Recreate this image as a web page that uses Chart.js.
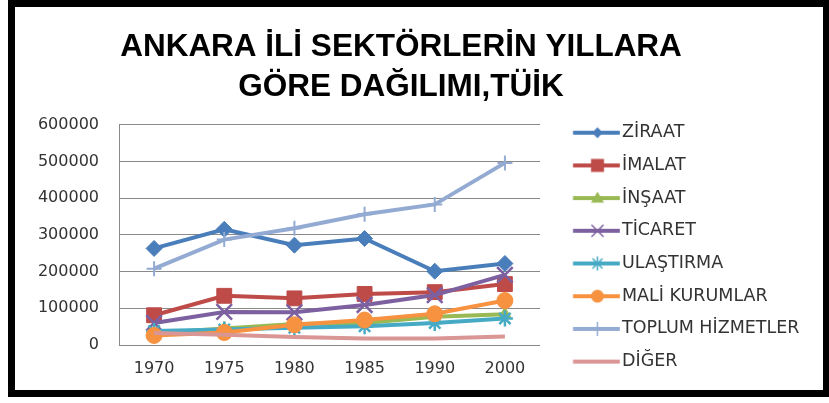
<!DOCTYPE html>
<html>
<head>
<meta charset="utf-8">
<script src="https://cdn.jsdelivr.net/npm/chart.js@4/dist/chart.umd.min.js"></script>
<style>
  html, body { margin: 0; padding: 0; background: #fff; }
  #wrap { position: relative; width: 829px; height: 403px; overflow: hidden; }
  #frame { position: absolute; left: 8px; top: 0; width: 822px; height: 397px; border: 7px solid #000; box-sizing: border-box; }
  #chart { position: absolute; left: 0; top: 0; }
</style>
</head>
<body>
<div id="wrap">
  <div id="frame"></div>
  <canvas id="chart" width="829" height="403"></canvas>
</div>
<script>
// Yillar
const years = ['1970', '1975', '1980', '1985', '1990', '2000'];

// Sektor degerleri (yaklasik)
const ziraat = [263000, 315000, 272000, 290000, 201000, 222000];
const imalat = [81000, 134000, 127000, 139000, 144000, 166000];
const insaat = [32000, 45000, 57000, 60000, 77000, 84000];
const ticaret = [60000, 90000, 89000, 109000, 136000, 191000];
const ulastirma = [38000, 42000, 47000, 51000, 60000, 72000];
const maliKurumlar = [26000, 34000, 55000, 68000, 85000, 121000];
const toplumHizmetler = [208000, 287000, 318000, 356000, 383000, 496000];
const diger = [33000, 28000, 22000, 18000, 18000, 23000];

const sectorNames = ['ZİRAAT', 'İMALAT', 'İNŞAAT', 'TİCARET', 'ULAŞTIRMA', 'MALİ KURUMLAR', 'TOPLUM HİZMETLER', 'DİĞER'];
const yMin = 0, yMax = 600000, yStep = 100000;

const seriesData = [ziraat, imalat, insaat, ticaret, ulastirma, maliKurumlar, toplumHizmetler, diger];

// Seri gorunumleri
const styles = [
    { color: '#4a7ebb', point: 'rectRot', radius: 8, pw: 1, icon: 'diamond' },
    { color: '#be4b48', point: 'rect', radius: 10.5, pw: 1, icon: 'square' },
    { color: '#98b954', point: 'triangle', radius: 7, pw: 1, icon: 'triangle' },
    { color: '#7d60a0', point: 'crossRot', radius: 11, pw: 2.5, icon: 'x' },
    { color: '#46aac5', point: 'star', radius: 8, pw: 2.5, icon: 'star' },
    { color: '#f69240', point: 'circle', radius: 8, pw: 1, icon: 'circle' },
    { color: '#93abd3', point: 'cross', radius: 7.5, pw: 2, icon: 'plus' },
    { color: '#d99694', point: 'circle', radius: 0, pw: 0, icon: 'none' }
];

// Yerlesim
const PLOT_RIGHT = 540;
const LEG_FONT = 17.5, LEG_PAD = 15.2;
const legX = PLOT_RIGHT + LEG_PAD;
const boxW = 622 - legX - LEG_FONT / 2;
const iconOx = legX + boxW / 2 - 36;
const LEG_T = 123.95 - 8 - LEG_PAD;

const mctx = document.createElement('canvas').getContext('2d');
mctx.font = LEG_FONT + 'px DejaVu Sans';
const maxTextW = Math.max(...sectorNames.map(n => mctx.measureText(n).width));
const legWidth = LEG_PAD + boxW + LEG_FONT / 2 + maxTextW + 10;
const padRight = Math.max(0, 829 - PLOT_RIGHT - legWidth);
const padLeft = 2 * 401 - 829 + padRight;

// Lejant simgeleri: cizgi + isaret
function makeIcon(s) {
    const c = document.createElement('canvas');
    c.width = 72; c.height = 20;
    const g = c.getContext('2d');
    const x0 = 573 - iconOx, x1 = 620 - iconOx, mx = 597.5 - iconOx, my = 10;
    g.strokeStyle = s.color; g.fillStyle = s.color;
    g.lineWidth = 4;
    g.beginPath(); g.moveTo(x0, my); g.lineTo(x1, my); g.stroke();
    g.lineWidth = 1.5;
    g.beginPath();
    switch (s.icon) {
        case 'diamond':
            g.moveTo(mx, my - 5.5); g.lineTo(mx + 5.5, my); g.lineTo(mx, my + 5.5); g.lineTo(mx - 5.5, my);
            g.closePath(); g.fill(); break;
        case 'square':
            g.fillRect(mx - 6.5, my - 6.5, 13, 13); break;
        case 'triangle':
            g.moveTo(mx, my - 6.5); g.lineTo(mx + 6.5, my + 4.5); g.lineTo(mx - 6.5, my + 4.5);
            g.closePath(); g.fill(); break;
        case 'x':
            g.moveTo(mx - 6, my - 6); g.lineTo(mx + 6, my + 6);
            g.moveTo(mx + 6, my - 6); g.lineTo(mx - 6, my + 6); g.stroke(); break;
        case 'star':
            g.moveTo(mx - 5, my - 5); g.lineTo(mx + 5, my + 5);
            g.moveTo(mx + 5, my - 5); g.lineTo(mx - 5, my + 5);
            g.moveTo(mx, my - 7); g.lineTo(mx, my + 7); g.stroke(); break;
        case 'circle':
            g.arc(mx, my, 6.5, 0, Math.PI * 2); g.fill(); break;
        case 'plus':
            g.moveTo(mx, my - 7); g.lineTo(mx, my + 7); g.stroke(); break;
    }
    return c;
}
const icons = styles.map(makeIcon);

const datasets = seriesData.map((d, i) => ({
    label: sectorNames[i],
    data: d,
    borderColor: styles[i].color,
    backgroundColor: styles[i].color,
    borderWidth: 4,
    pointStyle: styles[i].point,
    pointRadius: styles[i].radius,
    pointBorderWidth: styles[i].pw,
    pointBackgroundColor: styles[i].color,
    pointBorderColor: styles[i].color,
    tension: 0,
    order: -i
}));

const tickFont = { family: 'DejaVu Sans', size: 16 };

new Chart(document.getElementById('chart'), {
    type: 'line',
    data: { labels: years, datasets: datasets },
    options: {
        responsive: false,
        animation: false,
        devicePixelRatio: 1,
        events: [],
        layout: { padding: { top: 8, bottom: 10, left: padLeft, right: padRight } },
        scales: {
            x: {
                offset: true,
                grid: { display: false, drawTicks: false },
                border: { display: false },
                ticks: { padding: 14, color: '#333', font: tickFont },
                afterFit: s => { s.height = 403 - 10 - 345; }
            },
            y: {
                min: yMin,
                max: yMax,
                grid: { color: '#8a8a8a', drawTicks: false },
                border: { display: true, color: '#8a8a8a' },
                ticks: { stepSize: yStep, padding: 20, color: '#333', font: tickFont, callback: v => String(v) },
                afterFit: s => { s.width = 119 - padLeft; }
            }
        },
        plugins: {
            title: {
                display: true,
                text: ['ANKARA İLİ SEKTÖRLERİN YILLARA', 'GÖRE DAĞILIMI,TÜİK'],
                color: '#000',
                font: { family: 'Liberation Sans', size: 31.5, weight: 'bold', lineHeight: 40 / 31.5 },
                padding: { top: 19.5, bottom: 17.2 }
            },
            legend: {
                position: 'right',
                align: 'start',
                maxWidth: Math.ceil(legWidth) + 2,
                title: { display: true, text: ' ', font: { size: 10, lineHeight: 1.2 }, padding: (LEG_T - 12) / 2 },
                labels: {
                    usePointStyle: true,
                    pointStyleWidth: boxW,
                    padding: LEG_PAD,
                    color: '#333',
                    font: { family: 'DejaVu Sans', size: LEG_FONT },
                    sort: (a, b) => a.datasetIndex - b.datasetIndex,
                    generateLabels: chart => Chart.defaults.plugins.legend.labels.generateLabels(chart)
                        .map(item => ({ ...item, pointStyle: icons[item.datasetIndex] }))
                }
            },
            tooltip: { enabled: false }
        }
    }
});
</script>
</body>
</html>
